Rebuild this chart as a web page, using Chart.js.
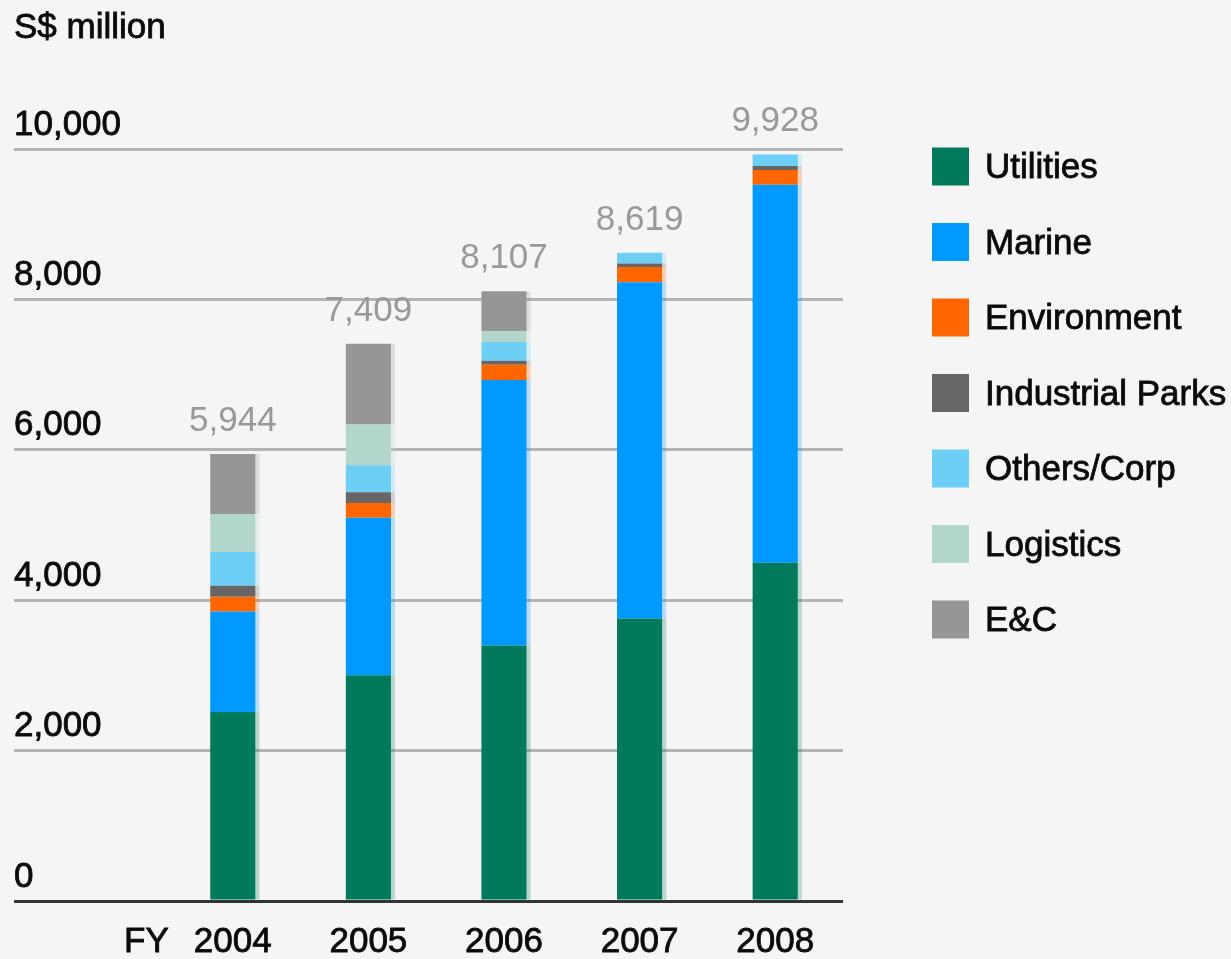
<!DOCTYPE html>
<html><head><meta charset="utf-8">
<script src="https://cdn.jsdelivr.net/npm/chart.js@4/dist/chart.umd.min.js"></script>
<style>html,body{margin:0;padding:0;background:#f5f5f5;overflow:hidden}#wrap{width:1231px;height:959px}</style>
</head><body><div id="wrap"><canvas id="c" width="1231" height="959"></canvas></div>
<script>
// ---- data ----
const years = ['2004', '2005', '2006', '2007', '2008'];
const utilities = [2513, 3003, 3399, 3757, 4497];
const marine = [1336, 2094, 3528, 4471, 5027];
const environment = [198, 194, 203, 202, 198];
const industrialParks = [145, 146, 53, 49, 53];
const othersCorp = [450, 357, 251, 140, 153];
const logistics = [503, 542, 145, 0, 0];
const eAndC = [799, 1073, 528, 0, 0];
const totals = [5944, 7409, 8107, 8619, 9928];
const yTickValues = [0, 2000, 4000, 6000, 8000, 10000];
const seriesNames = ['Utilities', 'Marine', 'Environment', 'Industrial Parks', 'Others/Corp', 'Logistics', 'E&C'];
const unitLabel = 'S$ million';
const fyLabel = 'FY';

// ---- styles ----
const colors = ['#007a5a', '#0099ff', '#ff6600', '#666666', '#6dcff6', '#b2d6cc', '#969696'];
const FONT = '"Liberation Sans", Arial, sans-serif';
const TEXT = '#0a0a0a';
const STROKE = 0.8;
const seriesValues = [utilities, marine, environment, industrialParks, othersCorp, logistics, eAndC];

const datasets = seriesNames.map((n, i) => ({
  label: n,
  data: seriesValues[i],
  backgroundColor: colors[i],
  borderWidth: 0,
  categoryPercentage: 1,
  barPercentage: 0.333
}));

const shadowPlugin = {
  id: 'shadow',
  beforeDatasetsDraw(chart) {
    const ctx = chart.ctx;
    ctx.save();
    ctx.globalAlpha = 0.25;
    chart.data.datasets.forEach((ds, di) => {
      const meta = chart.getDatasetMeta(di);
      meta.data.forEach(el => {
        const h = el.base - el.y;
        if (h > 0.5) {
          ctx.fillStyle = ds.backgroundColor;
          ctx.fillRect(el.x + el.width / 2, el.y, 4, h);
        }
      });
    });
    ctx.restore();
  }
};

function boldText(ctx, t, x, y, color) {
  ctx.fillStyle = color;
  ctx.strokeStyle = color;
  ctx.lineWidth = STROKE;
  ctx.fillText(t, x, y);
  ctx.strokeText(t, x, y);
}

const decoPlugin = {
  id: 'deco',
  afterDraw(chart) {
    const ctx = chart.ctx;
    const ys = chart.scales.y, xs = chart.scales.x;
    ctx.save();
    ctx.font = '35px ' + FONT;
    ctx.textAlign = 'left';
    ctx.textBaseline = 'alphabetic';
    boldText(ctx, unitLabel, 14, 38, TEXT);
    // FY label
    ctx.textBaseline = 'middle';
    boldText(ctx, fyLabel, 124, 942, TEXT);
    // totals above bars
    ctx.textAlign = 'center';
    ctx.textBaseline = 'alphabetic';
    totals.forEach((t, i) => {
      const x = xs.getPixelForValue(i);
      const y = ys.getPixelForValue(t);
      ctx.fillStyle = '#999999';
      ctx.fillText(t.toLocaleString('en-US'), x, y - 23);
    });
    // legend
    ctx.textAlign = 'left';
    ctx.textBaseline = 'middle';
    seriesNames.forEach((n, i) => {
      const cy = 166.5 + 75.5 * i;
      ctx.fillStyle = colors[i];
      ctx.fillRect(932, cy - 19, 37, 38);
      boldText(ctx, n, 985, cy + 2, TEXT);
    });
    ctx.restore();
  }
};

new Chart(document.getElementById('c'), {
  type: 'bar',
  data: { labels: years, datasets },
  options: {
    responsive: false,
    devicePixelRatio: 1,
    animation: false,
    layout: { padding: { left: 14, right: 388, top: 149, bottom: 0 } },
    plugins: { legend: { display: false }, tooltip: { enabled: false } },
    scales: {
      x: {
        stacked: true,
        grid: { display: false, drawTicks: false },
        border: { display: false },
        ticks: { color: TEXT, textStrokeColor: TEXT, textStrokeWidth: STROKE, font: { family: FONT, size: 35 }, padding: 20, maxRotation: 0 },
        afterFit(s) { s.height = 58; }
      },
      y: {
        stacked: true,
        min: 0, max: 10000,
        afterBuildTicks(s) { s.ticks = yTickValues.map(v => ({ value: v })); },
        grid: {
          color: c => (c.tick && c.tick.value === 0) ? '#333333' : '#b4b4b4',
          lineWidth: 3,
          drawTicks: true,
          tickLength: 151
        },
        border: { display: false },
        ticks: {
          color: TEXT,
          textStrokeColor: TEXT,
          textStrokeWidth: STROKE,
          font: { family: FONT, size: 35 },
          crossAlign: 'far',
          padding: 0,
          labelOffset: -24,
          callback: v => Number(v).toLocaleString('en-US')
        },
        afterFit(s) { s.width = 151; }
      }
    }
  },
  plugins: [shadowPlugin, decoPlugin]
});
</script>
</body></html>
